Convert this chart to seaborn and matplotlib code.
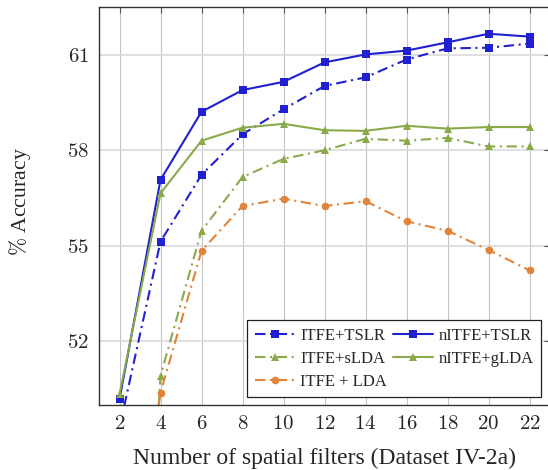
import matplotlib
matplotlib.use('Agg')
import matplotlib.pyplot as plt
import seaborn as sns
import numpy as np
import pandas as pd

sns.set_style('white')
plt.rcParams['font.family'] = ['Liberation Serif', 'DejaVu Serif']
plt.rcParams['mathtext.fontset'] = 'cm'

# number of spatial filters
filters = [2, 4, 6, 8, 10, 12, 14, 16, 18, 20, 22]

# accuracies (values below 50 are clipped by the axes)
itfe_tslr = [49.3, 55.13, 57.23, 58.50, 59.29, 60.02, 60.29, 60.85, 61.20, 61.22, 61.35]
nitfe_tslr = [50.18, 57.07, 59.21, 59.89, 60.15, 60.76, 61.01, 61.13, 61.39, 61.66, 61.57]
itfe_slda = [30.0, 50.92, 55.47, 57.16, 57.73, 58.00, 58.36, 58.30, 58.39, 58.12, 58.12]
nitfe_glda = [50.34, 56.65, 58.30, 58.71, 58.83, 58.63, 58.61, 58.77, 58.68, 58.73, 58.73]
itfe_lda = [41.0, 50.39, 54.84, 56.25, 56.48, 56.25, 56.40, 55.77, 55.47, 54.87, 54.23]

y_ticks = [52, 55, 58, 61]

blue = '#2020d0'
green = '#8aaa4a'
orange = '#e0843c'
dashdot = (0, (5, 2.2, 1, 2.2))

series = [
    ('ITFE+TSLR', itfe_tslr, blue, dashdot, 's'),
    ('nITFE+TSLR', nitfe_tslr, blue, '-', 's'),
    ('ITFE+sLDA', itfe_slda, green, dashdot, '^'),
    ('nITFE+gLDA', nitfe_glda, green, '-', '^'),
    ('ITFE + LDA', itfe_lda, orange, dashdot, 'o'),
]

fig = plt.figure(figsize=(5.48, 4.70), dpi=100)
ax = fig.add_axes([99 / 548, 65 / 470, 451 / 548, 398 / 470])

handles = {}
for name, vals, col, ls, mk in series:
    sns.lineplot(x=filters, y=vals, ax=ax, color=col, linestyle=ls, linewidth=1.5,
                 marker=mk, markersize=5.5, markeredgewidth=0, label=name)
for line in ax.get_lines():
    handles[line.get_label()] = line

ax.set_xlim(1, 23)
ax.set_ylim(50, 62.5)
ax.set_xticks(filters)
ax.set_xticklabels([f'${v}$' for v in filters])
ax.set_yticks(y_ticks)
ax.set_yticklabels([f'${v}$' for v in y_ticks])
ax.grid(axis='x', color='#c4c4c4', linewidth=0.8)
ax.grid(axis='y', color='#dadada', linewidth=1.2)
ax.set_axisbelow(True)
ax.tick_params(direction='in', length=4, width=0.8, color='#555555',
               top=True, right=True, labelsize=15, pad=7)
for sp in ax.spines.values():
    sp.set_color('#333333')
    sp.set_linewidth(1.0)

ax.set_xlabel('Number of spatial filters (Dataset IV-2a)', fontsize=17, labelpad=10)
ax.set_ylabel(r'$\%$ Accuracy', fontsize=15.7)
ax.yaxis.set_label_coords(-0.147, 0.51)

order = ['ITFE+TSLR', 'ITFE+sLDA', 'ITFE + LDA', 'nITFE+TSLR', 'nITFE+gLDA']
leg = ax.legend([handles[k] for k in order], order, ncol=2, loc='lower right',
                bbox_to_anchor=(0.98, 0.02), fontsize=12, frameon=True, fancybox=False,
                edgecolor='#222222', framealpha=1, borderpad=0.45, labelspacing=0.42,
                handlelength=2.4, handletextpad=0.3, columnspacing=0.4, borderaxespad=0)
leg.get_frame().set_linewidth(0.9)

fig.savefig('out.png', dpi=100)
